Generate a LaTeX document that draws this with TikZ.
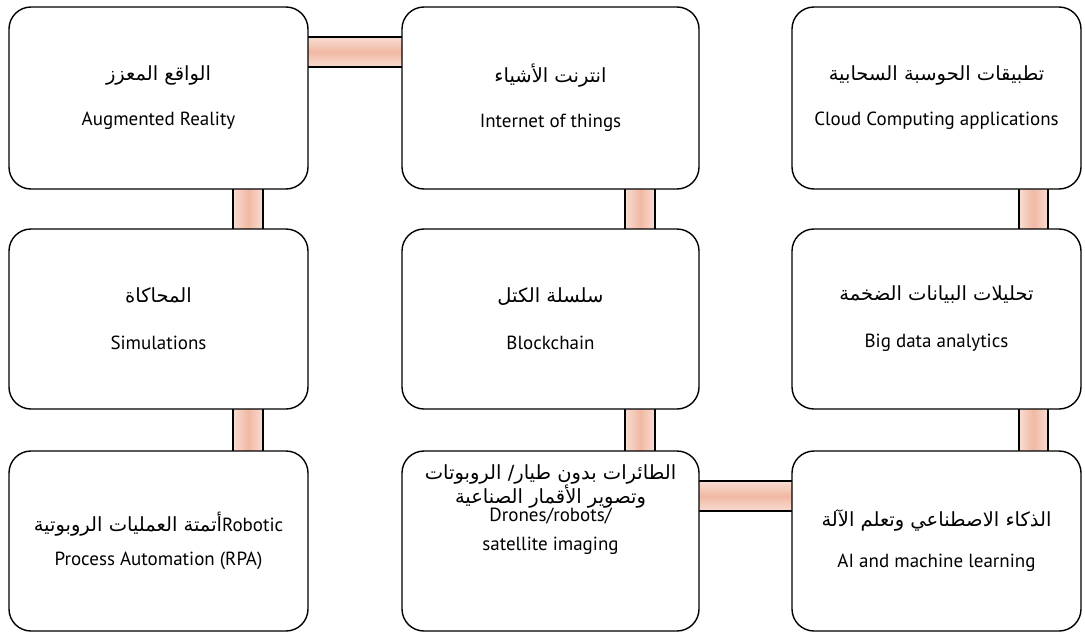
\documentclass[tikz,border=0pt]{standalone}
\usepackage{fontspec}
\setmainfont{PT Sans}
\newfontfamily\arabicfont[Script=Arabic]{DejaVu Sans}
\TeXXeTstate=1
\usetikzlibrary{backgrounds}
\newcommand\artext[1]{{\arabicfont\fontsize{19.5}{22}\selectfont\beginR #1\endR}}
\newcommand\fixedlines{\lineskiplimit=-100pt\relax}
\definecolor{baredge}{HTML}{F8DDD2}
\definecolor{barmid}{HTML}{F1B9A4}
\tikzset{
  card/.style={draw=black, line width=1.4pt, fill=white, rounded corners=22pt,
    outer sep=0pt, inner sep=0pt, align=center,
    font={\fontsize{19}{22}\selectfont\fixedlines}},
  hbar/.style={top color=baredge, bottom color=baredge, middle color=barmid},
  vbar/.style={left color=baredge, right color=baredge, middle color=barmid},
  barline/.style={draw=black, line width=1.3pt}
}
\begin{document}
\begin{tikzpicture}[x=1pt, y=-1pt]
\useasboundingbox (0,0) rectangle (1085,632);

% top row
\node[card, minimum width=299pt, minimum height=182pt] (aug) at (158.5,98)
  {\artext{الواقع المعزز}\\[23pt] Augmented Reality};
\node[card, minimum width=297pt, minimum height=182pt] (iot) at (550.5,98)
  {\artext{انترنت الأشياء}\\[23pt] Internet of things};
\node[card, minimum width=289pt, minimum height=182pt] (cloud) at (936.5,98)
  {\artext{تطبيقات الحوسبة السحابية}\\[23pt] Cloud Computing applications};

% middle row
\node[card, minimum width=299pt, minimum height=180pt] (sim) at (158.5,319)
  {\artext{المحاكاة}\\[25pt] Simulations};
\node[card, minimum width=297pt, minimum height=180pt] (block) at (550.5,319)
  {\artext{سلسلة الكتل}\\[25pt] Blockchain};
\node[card, minimum width=289pt, minimum height=180pt] (bigdata) at (936.5,319)
  {\artext{تحليلات البيانات الضخمة}\\[25pt] Big data analytics};

% bottom row
\node[card, minimum width=299pt, minimum height=180pt] (rpa) at (158.5,541)
  {\artext{أتمتة العمليات الروبوتية}Robotic\\[12pt] Process Automation (RPA)};
\node[card, minimum width=297pt, minimum height=180pt] (drones) at (550.5,541)
  {\artext{الطائرات بدون طيار/ الروبوتات}\\[2pt]
   \artext{وتصوير الأقمار الصناعية}\\[-4pt]
   Drones/robots/\\[7pt] satellite imaging\\[44pt]\mbox{}};
\node[card, minimum width=289pt, minimum height=180pt] (ai) at (936.5,541)
  {\artext{الذكاء الاصطناعي وتعلم الآلة}\\[19pt] AI and machine learning};

% connecting bars, drawn behind the cards
\begin{pgfonlayer}{background}
  % horizontal bars
  \shade[hbar] (aug.east |- 0,37) rectangle (iot.west |- 0,67);
  \draw[barline] (aug.east |- 0,37) -- (iot.west |- 0,37)
                 (aug.east |- 0,67) -- (iot.west |- 0,67);
  \shade[hbar] (drones.east |- 0,481) rectangle (ai.west |- 0,511);
  \draw[barline] (drones.east |- 0,481) -- (ai.west |- 0,481)
                 (drones.east |- 0,511) -- (ai.west |- 0,511);
  % vertical bars, left column
  \shade[vbar] (233,0 |- aug.south) rectangle (263,0 |- sim.north);
  \draw[barline] (233,0 |- aug.south) -- (233,0 |- sim.north)
                 (263,0 |- aug.south) -- (263,0 |- sim.north);
  \shade[vbar] (233,0 |- sim.south) rectangle (263,0 |- rpa.north);
  \draw[barline] (233,0 |- sim.south) -- (233,0 |- rpa.north)
                 (263,0 |- sim.south) -- (263,0 |- rpa.north);
  % vertical bars, middle column
  \shade[vbar] (625,0 |- iot.south) rectangle (655,0 |- block.north);
  \draw[barline] (625,0 |- iot.south) -- (625,0 |- block.north)
                 (655,0 |- iot.south) -- (655,0 |- block.north);
  \shade[vbar] (625,0 |- block.south) rectangle (655,0 |- drones.north);
  \draw[barline] (625,0 |- block.south) -- (625,0 |- drones.north)
                 (655,0 |- block.south) -- (655,0 |- drones.north);
  % vertical bars, right column
  \shade[vbar] (1019,0 |- cloud.south) rectangle (1048,0 |- bigdata.north);
  \draw[barline] (1019,0 |- cloud.south) -- (1019,0 |- bigdata.north)
                 (1048,0 |- cloud.south) -- (1048,0 |- bigdata.north);
  \shade[vbar] (1019,0 |- bigdata.south) rectangle (1048,0 |- ai.north);
  \draw[barline] (1019,0 |- bigdata.south) -- (1019,0 |- ai.north)
                 (1048,0 |- bigdata.south) -- (1048,0 |- ai.north);
\end{pgfonlayer}
\end{tikzpicture}
\end{document}
